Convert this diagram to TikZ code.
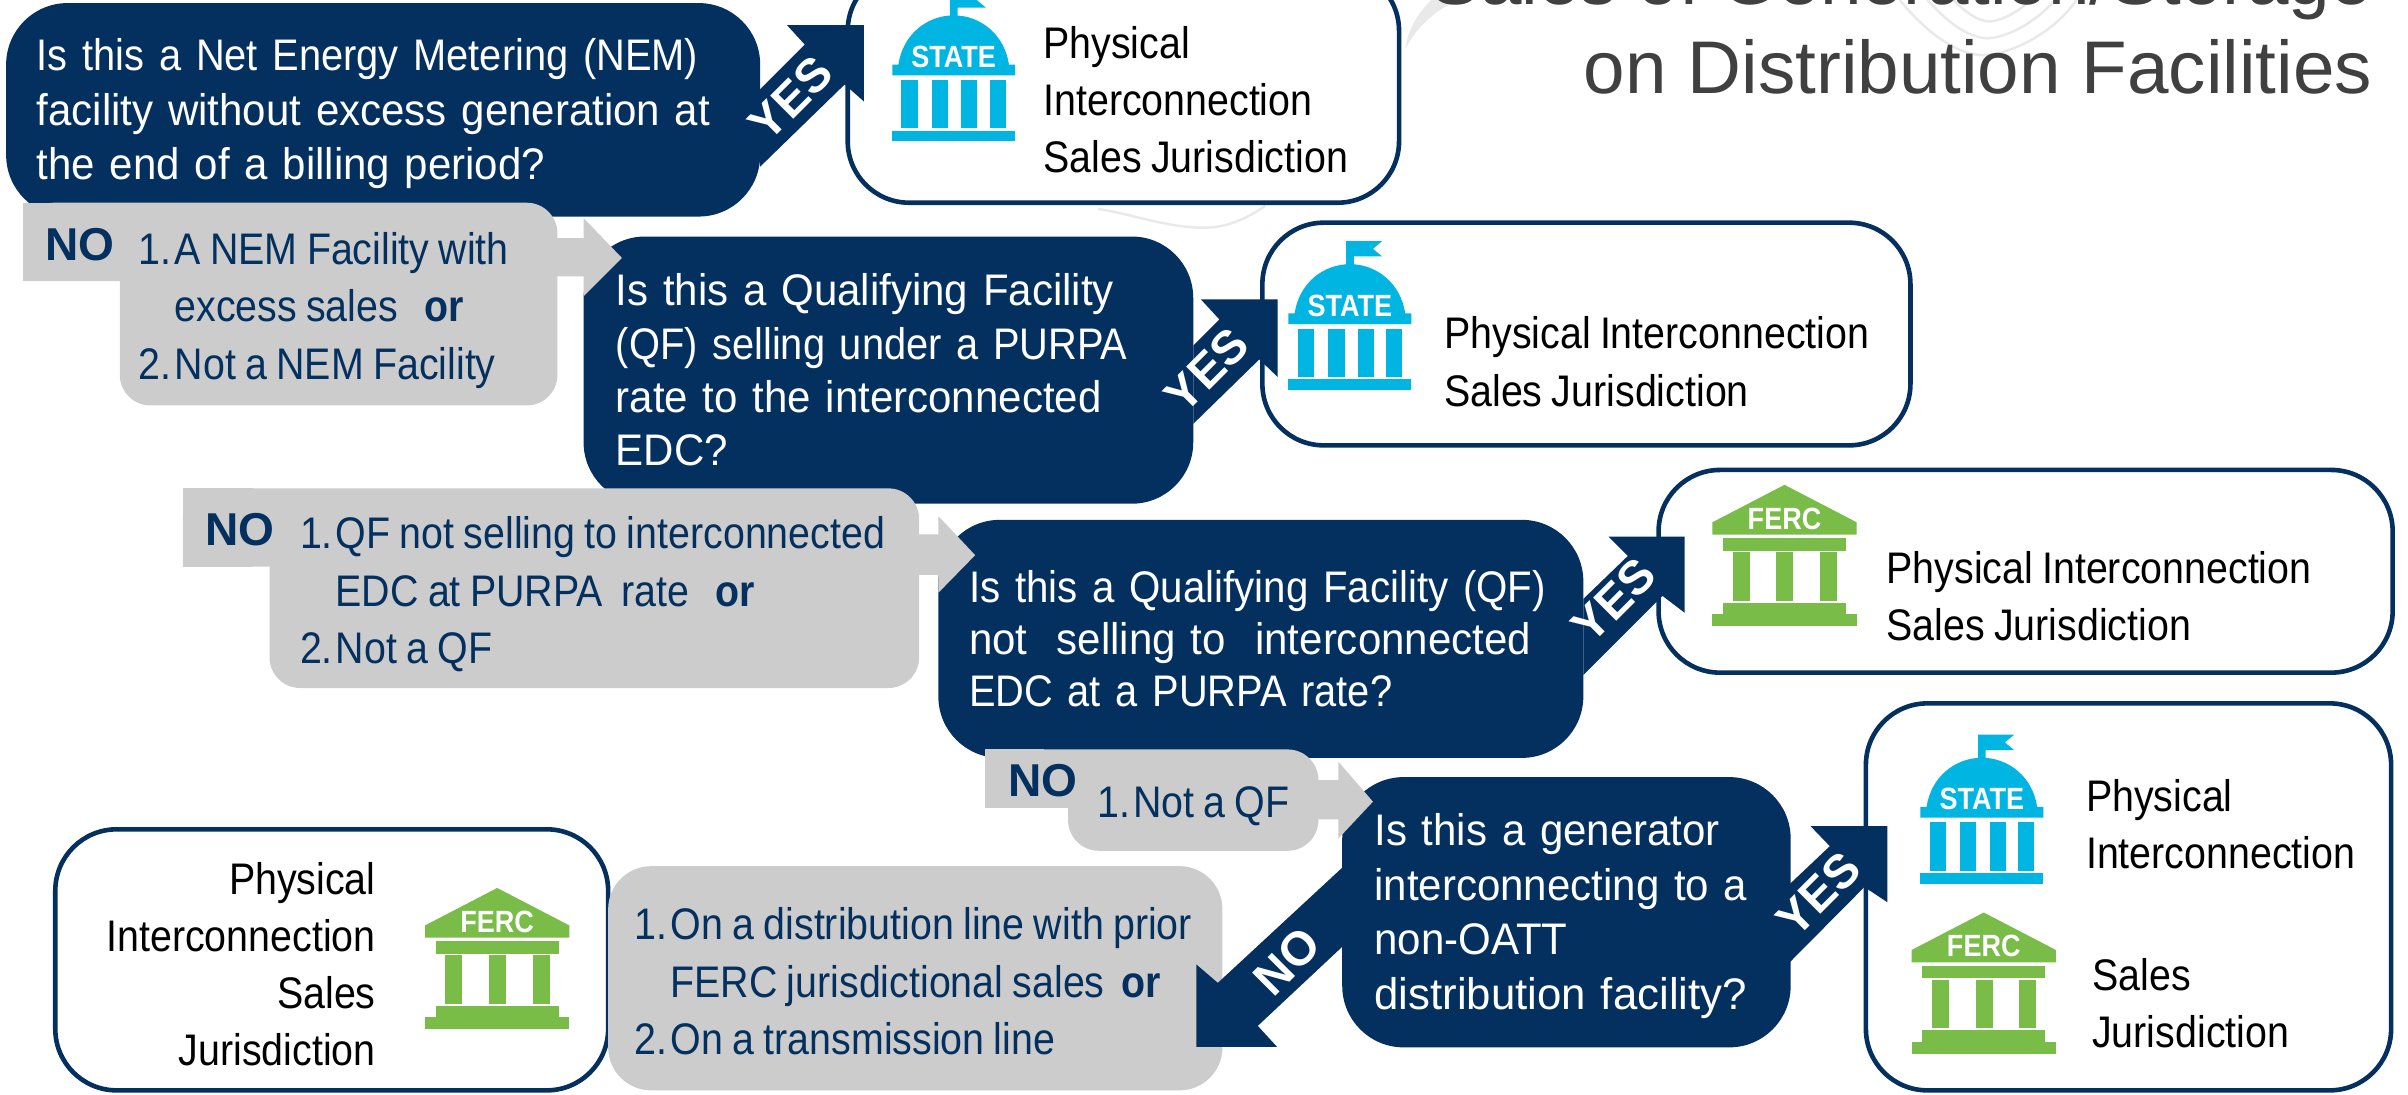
\documentclass[tikz,border=0pt]{standalone}
\usepackage{fontspec}
\setmainfont{Liberation Sans}
\newfontfamily\nar[FakeStretch=0.89,WordSpace=0.85]{Liberation Sans}
\newfontfamily\qf[FakeStretch=0.95,WordSpace=0.7]{Liberation Sans}
\newfontfamily\qfa[FakeStretch=0.90,WordSpace=0.7]{Liberation Sans}
\newfontfamily\qfb[FakeStretch=0.91,WordSpace=0.7]{Liberation Sans}
\newfontfamily\qfc[FakeStretch=0.99,WordSpace=0.7]{Liberation Sans}
\newfontfamily\narb[FakeStretch=0.89]{Liberation Sans Bold}
\newfontfamily\plainb{Liberation Sans Bold}
\newfontfamily\iconb[FakeStretch=0.88]{Liberation Sans Bold}
\definecolor{navy}{HTML}{03305F}
\definecolor{grayb}{HTML}{CCCCCC}
\definecolor{cyanI}{HTML}{00B5E2}
\definecolor{greenI}{HTML}{7ABC48}
\definecolor{titleg}{HTML}{404040}
\definecolor{wm}{HTML}{E9E9E9}
\newcommand{\firstup}{\rule{0pt}{13pt}}
\tikzset{
 qbox/.style={fill=navy,rounded corners=20,text=white,font=\qf\fontsize{14.4}{17.75}\selectfont,align=left,anchor=north west,inner sep=0pt,outer sep=0pt},
 rbox/.style={draw=navy,line width=1.5pt,fill=white,rounded corners=20,inner sep=0pt,outer sep=0pt,anchor=north west},
 rtext/.style={font=\nar\fontsize{14.4}{18.6}\selectfont,text=black,align=left,anchor=west,inner sep=0pt},
 gtext/.style={font=\nar\fontsize{14.4}{18.7}\selectfont,text=navy,align=left,anchor=west,inner sep=0pt},
 nolab/.style={font=\plainb\fontsize{15}{15}\selectfont,text=navy,inner sep=0pt},
 arrowlab/.style={font=\plainb\fontsize{15.5}{16}\selectfont,text=white,inner sep=0pt,rotate=45},
 statepic/.pic={
  \fill[cyanI] (-2.5,-80) -- (-2.5,-97) -- (21,-97) -- (15,-92) -- (21,-87) -- (2.5,-87) -- (2.5,-80) -- cycle;
  \fill[cyanI] (-36,-50) .. controls (-33,-70) and (-17,-82) .. (0,-82) .. controls (17,-82) and (33,-70) .. (36,-50) -- (40,-50) -- (40,-43) -- (-40,-43) -- (-40,-50) -- cycle;
  \foreach \a in {-34,-14,5,23.5} \fill[cyanI] (\a,-40) rectangle ++(10.5,31.5);
  \fill[cyanI] (-40,-7) rectangle (40,0);
  \node[font=\iconb\fontsize{10}{10}\selectfont,text=white,inner sep=0pt] at (0,-55) {STATE};
 },
 fercpic/.pic={
  \fill[greenI] (0,-91.8) -- (47,-67.4) -- (47,-59.4) -- (-47,-59.4) -- (-47,-67.4) -- cycle;
  \fill[greenI] (-40,-57) rectangle (40,-49);
  \foreach \a in {-33.75,-5.25,23.25} \fill[greenI] (\a,-48) rectangle ++(11,31.6);
  \fill[greenI] (-40,-15) rectangle (40,-7.5);
  \fill[greenI] (-47,-7.5) rectangle (47,0);
  \node[font=\iconb\fontsize{10}{10}\selectfont,text=white,inner sep=0pt] at (0,-69.8) {FERC};
 }
}
\begin{document}
\begin{tikzpicture}[x=0.5pt,y=-0.5pt]
\useasboundingbox (0,0) rectangle (1568,713);
\clip (0,0) rectangle (1568,713);
% faint watermark behind the title
\fill[wm] (915,32) .. controls (922,18) and (935,6) .. (950,0) -- (932,0) .. controls (924,8) and (917,18) .. (915,32) -- cycle;
\draw[wm,line width=0.8pt] (1237,0) .. controls (1255,22) and (1275,36) .. (1292,36) .. controls (1315,34) and (1340,18) .. (1352,0);
\draw[wm,line width=0.8pt] (1255,0) .. controls (1268,14) and (1280,24) .. (1294,25) .. controls (1310,24) and (1328,12) .. (1338,0);
\draw[wm,line width=0.8pt] (1272,0) .. controls (1280,8) and (1288,14) .. (1296,14) .. controls (1305,13) and (1315,7) .. (1322,0);
\draw[wm,line width=0.8pt] (715,136) .. controls (740,140) and (765,150) .. (790,148) .. controls (805,146) and (815,140) .. (824,134);
% title
\node[font=\fontsize{24.3}{27}\selectfont,text=titleg,anchor=base east,inner sep=0pt] (t1) at (1545,3) {Sales of Generation/Storage};
\node[font=\fontsize{24.3}{27}\selectfont,text=titleg,anchor=base east,inner sep=0pt] (t2) at (1545,61) {on Distribution Facilities};
% white result boxes
\node[rbox,minimum width=179.5pt,minimum height=76pt] (ra) at (552,-20) {};
\node[rbox,minimum width=211pt,minimum height=72.5pt] (rb) at (822,145) {};
\node[rbox,minimum width=239pt,minimum height=66pt] (rc) at (1080,306) {};
\node[rbox,minimum width=171pt,minimum height=126pt] (rd) at (1215,458) {};
\node[rbox,minimum width=180pt,minimum height=85pt] (re) at (36,540) {};
% question boxes
\node[qbox,minimum width=245.5pt,minimum height=69.5pt,text width=225.5pt,inner xsep=10pt] (q1) at (4,2) {\firstup{\qfa Is this a Net Energy Metering (NEM)}\\facility without excess generation at\\the end of a billing period?};
\node[qbox,font=\qf\fontsize{14.4}{17.35}\selectfont,minimum width=198.5pt,minimum height=87pt,text width=177.5pt,inner xsep=10.5pt] (q2) at (380,154) {Is this a Qualifying Facility\\{\qfa (QF) selling under a PURPA}\\rate to the interconnected\\EDC?};
\node[qbox,font=\qf\fontsize{14.4}{17}\selectfont,minimum width=210pt,minimum height=77.5pt,text width=190pt,inner xsep=10pt] (q3) at (611,338.5) {{\qfb Is this a Qualifying Facility (QF)}\\not\ \ selling to\ \ interconnected\\{\qfa EDC at a PURPA rate?}};
\node[qbox,minimum width=145pt,minimum height=88pt,text width=125pt,inner xsep=10.5pt] (q4) at (874,506) {\firstup Is this a generator\\interconnecting to a\\non-OATT\\{\qfc distribution facility?}};
% gray boxes with NO tabs and arrows
\fill[grayb,rounded corners=10] (15,132) [sharp corners] -- (15,183) -- (78,183) [rounded corners=10] -- (78,264) -- (363,264) -- (363,132) -- cycle;
\fill[grayb] (15,132) rectangle (60,183);
\fill[grayb] (360,155) -- (380,155) -- (380,142) -- (405,168) -- (380,193) -- (380,180) -- (360,180) -- cycle;
\fill[grayb,rounded corners=10] (119,318) [sharp corners] -- (119,369) -- (175.5,369) [rounded corners=10] -- (175.5,448) -- (598.5,448) -- (598.5,318) -- cycle;
\fill[grayb] (119,318) rectangle (165,369);
\fill[grayb] (595,348) -- (611,348) -- (611,336) -- (635,361.5) -- (611,386) -- (611,374.4) -- (595,374.4) -- cycle;
\fill[grayb,rounded corners=10] (641.5,488) [sharp corners] -- (641.5,526) -- (695.5,526) [rounded corners=10] -- (695.5,554) -- (858.5,554) -- (858.5,488) -- cycle;
\fill[grayb] (641.5,488) rectangle (680,526);
\fill[grayb] (855,508) -- (871.5,508) -- (871.5,496) -- (894,522) -- (871.5,546) -- (871.5,533.6) -- (855,533.6) -- cycle;
\fill[grayb,rounded corners=14] (396,564) rectangle (796,710);
% gray text
\node[nolab] (no1) at (52,159) {NO};
\node[gtext] (g1) at (90,202) {1.\kern1pt A NEM Facility with\\\hspace{11.6pt}excess sales\ \ \kern2.5pt{\narb or}\\2.\kern1pt Not a NEM Facility};
\node[nolab] (no2) at (156,345) {NO};
\node[gtext] (g2) at (195,387) {1.\kern1pt QF not selling to interconnected\\\hspace{11.6pt}EDC at PURPA\ \ rate\ \ \kern2.5pt{\narb or}\\2.\kern1pt Not a QF};
\node[nolab] (no3) at (679,508) {NO};
\node[gtext] (g3) at (714,525) {1.\kern1pt Not a QF};
\node[gtext] (g4) at (413,639) {1.\kern1pt On a distribution line with prior\\\hspace{11.6pt}FERC jurisdictional sales \kern2.5pt{\narb or}\\2.\kern1pt On a transmission line};
% arrows
\fill[navy] (495,58) -- (524,29) -- (512.5,16.4) -- (562.5,16.4) -- (562.5,66) -- (550,55) -- (495,108.5) -- cycle;
\fill[navy] (777,225) -- (794,208) -- (782,195) -- (832,195) -- (832,245.5) -- (820,234) -- (777,276) -- cycle;
\fill[navy] (1031,390) -- (1060,362) -- (1047.5,349.5) -- (1097,349.5) -- (1097,399) -- (1082.5,388) -- (1031,439.5) -- cycle;
\fill[navy] (1164,577) -- (1191.5,551) -- (1179,538) -- (1229,538) -- (1229,587.5) -- (1214,577.6) -- (1164,628) -- cycle;
\fill[navy] (874,565) -- (793,640) -- (779,628) -- (779,681.6) -- (831.5,681.6) -- (819,668) -- (874,616.5) -- cycle;
\node[arrowlab] (y1) at (515,64) {YES};
\node[arrowlab] (y2) at (786,241) {YES};
\node[arrowlab] (y3) at (1051,391) {YES};
\node[arrowlab] (y4) at (1184,582) {YES};
\node[arrowlab] (n4) at (838,626) {NO};
% white box text
\node[rtext] (ta) at (679,65) {Physical\\Interconnection\\Sales Jurisdiction};
\node[rtext] (tb) at (940,235.5) {Physical Interconnection\\Sales Jurisdiction};
\node[rtext] (tc) at (1228,388) {Physical Interconnection\\Sales Jurisdiction};
\node[rtext] (td1) at (1358,536.5) {Physical\\Interconnection};
\node[rtext] (td2) at (1362,653.5) {Sales\\Jurisdiction};
\node[rtext,anchor=east,align=right] (te) at (245,628) {Physical\\Interconnection\\Sales\\Jurisdiction};
% icons
\pic at (621,92) {statepic};
\pic at (879,254) {statepic};
\pic at (1162,407.5) {fercpic};
\pic at (1290.5,575.4) {statepic};
\pic at (1291.75,686) {fercpic};
\pic at (323.75,670) {fercpic};
\end{tikzpicture}
\end{document}
